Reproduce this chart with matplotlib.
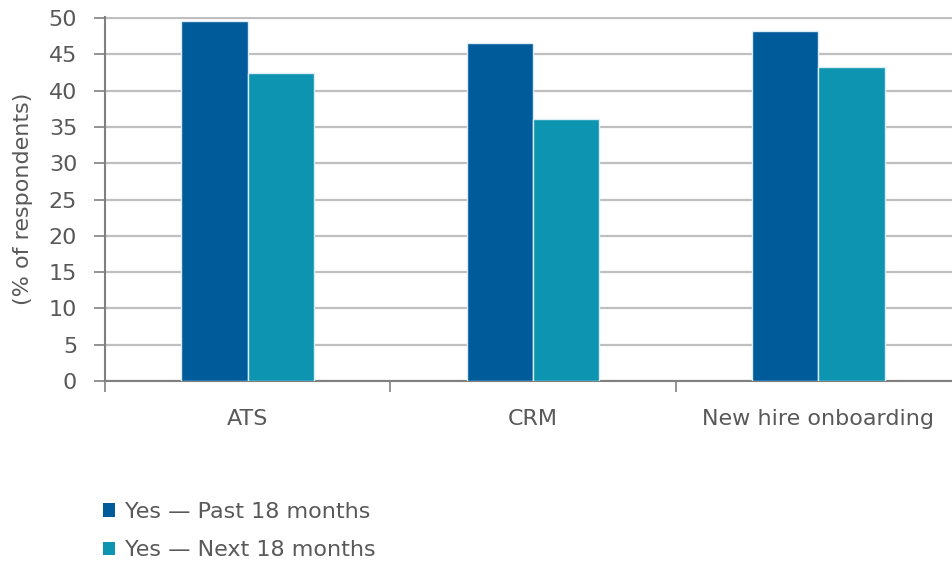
import matplotlib
matplotlib.use('Agg')
from matplotlib import pyplot as plt
from matplotlib.patches import Patch
import numpy as np

categories = ['ATS', 'CRM', 'New hire onboarding']
past_18 = [49.6, 46.6, 48.2]
next_18 = [42.4, 36.1, 43.3]
series_names = ['Yes \u2014 Past 18 months', 'Yes \u2014 Next 18 months']
y_ticks = [0, 5, 10, 15, 20, 25, 30, 35, 40, 45, 50]

dark = '#005b9a'
teal = '#0c94b0'
text_col = '#595959'
grid_col = '#bfbfbf'
axis_col = '#808080'

plt.rcParams['font.family'] = ['DejaVu Sans']
fs = 16

fig = plt.figure(figsize=(9.52, 5.62), dpi=100)
ax = fig.add_axes([105 / 952, 181 / 562, 856 / 952, 364 / 562])

x = np.arange(len(categories)) + 0.5
w = 0.233
ax.bar(x - w / 2, past_18, w, color=dark, edgecolor='#dcecf5', linewidth=1, zorder=3)
ax.bar(x + w / 2, next_18, w, color=teal, edgecolor='#dcecf5', linewidth=1, zorder=3)

ax.set_xlim(0, 3)
ax.set_ylim(0, 50.15)
ax.set_yticks(y_ticks)
ax.set_xticks([0, 1, 2, 3])
ax.set_xticklabels([])
ax.set_xticks(x, minor=True)
ax.set_xticklabels(categories, minor=True)
ax.tick_params(axis='x', which='minor', length=0, pad=20, labelsize=fs, labelcolor=text_col)
ax.tick_params(axis='x', which='major', length=8, width=1.2, color=axis_col, direction='out')
ax.tick_params(axis='y', length=8, width=1.2, color=axis_col, labelsize=fs, labelcolor=text_col, pad=12)

ax.yaxis.grid(True, color=grid_col, linewidth=1.6, zorder=0)
ax.set_axisbelow(True)
for side in ['top', 'right']:
    ax.spines[side].set_visible(False)
for side in ['left', 'bottom']:
    ax.spines[side].set_color(axis_col)
    ax.spines[side].set_linewidth(1.5)

ax.set_ylabel('(% of respondents)', fontsize=fs, color=text_col, labelpad=11)

handles = [Patch(facecolor=dark), Patch(facecolor=teal)]
fig.legend(handles, series_names, loc='upper left', bbox_to_anchor=(94 / 952, 1 - 493 / 562),
           frameon=False, fontsize=fs, labelcolor=text_col, handlelength=0.55, handleheight=0.55,
           handletextpad=0.45, labelspacing=0.82, borderaxespad=0)

fig.savefig('out.png', dpi=100)
